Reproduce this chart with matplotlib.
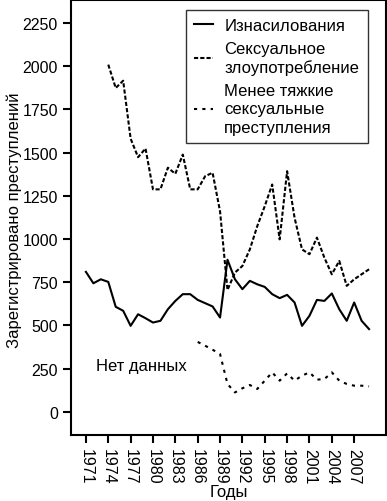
import matplotlib
matplotlib.use("Agg")
import matplotlib.pyplot as plt

plt.rcParams['font.family'] = ['Liberation Sans', 'DejaVu Sans']

years_rape = list(range(1971, 2010))
rape = [810, 744, 767, 752, 608, 585, 498, 565, 542, 517, 527, 594, 642, 681, 681,
        648, 629, 610, 546, 880, 767, 710, 758, 738, 723, 681, 658, 677, 633, 498,
        556, 648, 642, 685, 594, 527, 633, 527, 479]

years_abuse = list(range(1974, 2010))
abuse = [2008, 1873, 1915, 1580, 1473, 1523, 1287, 1287, 1412, 1377, 1488, 1287,
         1287, 1363, 1383, 1160, 705, 806, 844, 940, 1075, 1190, 1315, 998, 1392,
         1123, 940, 912, 1008, 892, 796, 873, 729, 767, 796, 825]

years_minor = list(range(1986, 2010))
minor = [405, 383, 360, 335, 162, 113, 137, 156, 133, 181, 229, 181, 223, 181,
         210, 229, 187, 190, 229, 181, 162, 152, 152, 148]

xticks = list(range(1971, 2008, 3))
yticks = list(range(0, 2251, 250))

fig = plt.figure(figsize=(3.87, 5.02), dpi=100)
ax = fig.add_axes([0.1835, 0.1315, 0.8135, 0.867])

ax.plot(years_rape, rape, color='black', lw=1.5, ls='-', label='Изнасилования')
ax.plot(years_abuse, abuse, color='black', lw=1.5, ls=(0, (2, 1)),
        label='Сексуальное\nзлоупотребление')
ax.plot(years_minor, minor, color='black', lw=1.5, ls=(0, (1.5, 2.5)),
        label='Менее тяжкие\nсексуальные\nпреступления')

ax.text(1972.3, 270, 'Нет данных', fontsize=12, va='center', ha='left')

ax.set_xlim(1969, 2011.25)
ax.set_ylim(-133, 2383)
ax.set_xticks(xticks)
ax.set_xticklabels([str(y) for y in xticks], rotation=270, fontsize=11.5)
ax.set_yticks(yticks)
ax.set_yticklabels([str(v) for v in yticks], fontsize=11.5)
ax.tick_params(axis='both', direction='out', length=6, width=1.5, color='black')
for s in ax.spines.values():
    s.set_linewidth(1.5)

ax.set_xlabel('Годы', fontsize=12, labelpad=0)
ax.set_ylabel('Зарегистрировано преступлений', fontsize=12)
ax.yaxis.set_label_coords(-0.156, 0.495)

leg = ax.legend(loc='upper right', bbox_to_anchor=(0.942, 0.977), fontsize=12,
                frameon=True, fancybox=False, handlelength=1.1, borderpad=0.5,
                labelspacing=0.45, handletextpad=0.7, borderaxespad=0)
for t in leg.get_texts():
    t.set_linespacing(1.3)
leg.get_frame().set_edgecolor('black')
leg.get_frame().set_linewidth(1.0)

fig.savefig('out.png', dpi=100)
